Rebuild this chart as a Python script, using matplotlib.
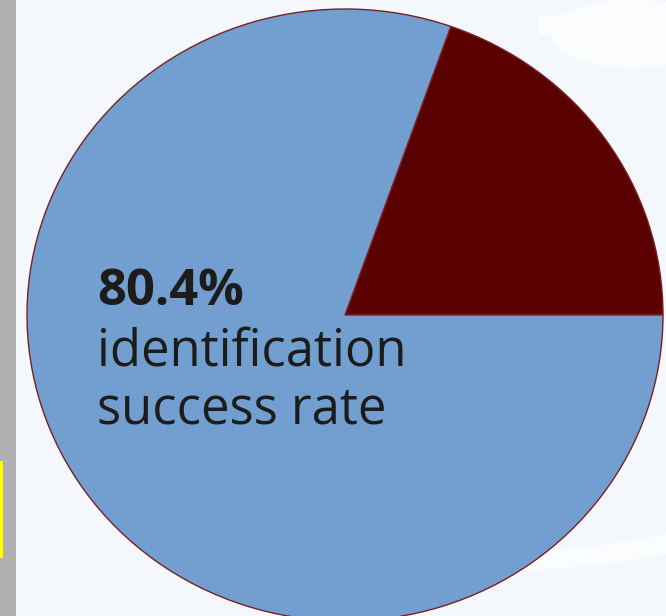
import matplotlib.pyplot as plt
from matplotlib.patches import Rectangle, Arc, Ellipse

# identification outcome shares (percent)
labels = ['Not identified', 'Identified']
shares = [19.6, 80.4]
colors = ['#5a0000', '#729fcf']
headline = '80.4%'
caption = ['identification', 'success rate']

W, H = 666, 616
fig = plt.figure(figsize=(W / 100, H / 100), dpi=100)
fig.patch.set_facecolor('#f4f8fc')

# pie centre / radii in pixels (slightly wider than tall)
cx, cy, rx, ry = 345, 315, 318, 306

ax = fig.add_axes([0, 0, 1, 1])
ax.set_facecolor('#f4f8fc')

# faint white watermark shapes behind the pie
ax.add_patch(Arc((0.55, 0.2), 2.9, 2.0, theta1=-90, theta2=-15, lw=14,
                 color='white', alpha=0.6, zorder=0))
ax.add_patch(Ellipse((0.9, 0.92), 0.5, 0.22, color='white', alpha=0.6, zorder=0))
ax.add_patch(Arc((0.75, 0.7), 1.3, 0.5, theta1=40, theta2=120, lw=14,
                 color='white', alpha=0.6, zorder=0))

wedges, _ = ax.pie(shares, colors=colors, startangle=0, counterclock=True,
                   radius=1, center=(0, 0),
                   wedgeprops=dict(edgecolor='#7a1f25', linewidth=1.0))
for w in wedges:
    w.set_zorder(2)

# map data units onto pixel layout (pie is a slightly stretched ellipse)
ax.set_aspect('auto')
ax.set_xlim(-cx / rx, (W - cx) / rx)
ax.set_ylim((cy - H) / ry, cy / ry)
ax.axis('off')

# grey strip on the left edge with a small yellow marker
fig.add_artist(Rectangle((0, 0), 16 / W, 1, transform=fig.transFigure,
                         facecolor='#b0b0b0', edgecolor='none', zorder=5))
fig.add_artist(Rectangle((0, 1 - 558 / H), 3 / W, 97 / H, transform=fig.transFigure,
                         facecolor='#ffff00', edgecolor='none', zorder=6))

fig.text(97 / W, 1 - 305 / H, headline, fontsize=36.5, fontweight='bold',
         family='Open Sans', color='#1c1c1c', va='baseline', ha='left')
fig.text(97 / W, 1 - 365 / H, caption[0], fontsize=36.5,
         family='Open Sans', color='#1c1c1c', va='baseline', ha='left')
fig.text(97 / W, 1 - 423 / H, caption[1], fontsize=36.5,
         family='Open Sans', color='#1c1c1c', va='baseline', ha='left')

fig.savefig('out.png', dpi=100, facecolor=fig.get_facecolor())
